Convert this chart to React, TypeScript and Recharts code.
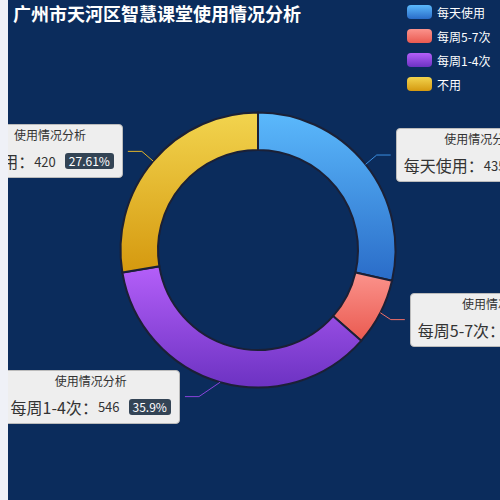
import React from 'react';
import { PieChart, Pie, Cell } from 'recharts';

const categories = ['每天使用', '每周5-7次', '每周1-4次', '不用'];
const usageValues = [435, 120, 546, 420];
const labelTitle = '使用情况分析';
const chartTitle = '广州市天河区智慧课堂使用情况分析';

const gradientStops = [
  ['#5bb9fc', '#2a6cc8'],
  ['#fb938c', '#ea5a50'],
  ['#b45ff9', '#6c32c2'],
  ['#f2d44e', '#d5990f'],
];
const lineColors = ['#3b8fe2', '#f07068', '#8a44dc', '#e2b42a'];

const data = categories.map((name, i) => ({ name, value: usageValues[i] }));
const total = usageValues.reduce((a, b) => a + b, 0);

const FONT = '"Noto Sans CJK SC", "Microsoft YaHei", sans-serif';
const RAD = Math.PI / 180;

function fmtPct(v: number) {
  return String(parseFloat(((v / total) * 100).toFixed(2))) + '%';
}

function renderLabel(props: any) {
  const { cx, cy, midAngle, outerRadius, index, value, name } = props;
  const cos = Math.cos(-midAngle * RAD);
  const sin = Math.sin(-midAngle * RAD);
  const dir = cos >= 0 ? 1 : -1;
  const x1 = cx + outerRadius * cos;
  const y1 = cy + outerRadius * sin;
  const rA = outerRadius + 15;
  const rX = outerRadius + 10;
  const rB = outerRadius + 22.5;
  const y2 = cy + rA * sin;
  const dy = Math.abs(y2 - cy);
  const x2 = cx + dir * rX * Math.sqrt(Math.max(0, 1 - (dy * dy) / (rB * rB)));
  const x3 = x2 + dir * 14;
  const boxW = 220;
  const boxH = 54;
  const fx = dir > 0 ? x3 + 5 : x3 - 5 - boxW;
  return (
    <g key={`lbl-${index}`}>
      <polyline
        points={`${x1},${y1} ${x2},${y2} ${x3},${y2}`}
        fill="none"
        stroke={lineColors[index]}
        strokeWidth={1}
      />
      <foreignObject x={fx} y={y2 - boxH / 2} width={boxW} height={boxH}>
        <div
          style={{
            width: boxW,
            height: boxH,
            display: 'flex',
            justifyContent: dir > 0 ? 'flex-start' : 'flex-end',
            fontFamily: FONT,
          }}
        >
          <div
            style={{
              boxSizing: 'border-box',
              height: boxH,
              background: '#eeeeee',
              border: '1px solid #bbbbbb',
              borderRadius: 4,
              padding: '0 8px 0 7px',
              display: 'flex',
              flexDirection: 'column',
              alignItems: 'center',
              whiteSpace: 'nowrap',
              boxShadow: '0 1px 1px rgba(0,0,0,0.25)',
            }}
          >
            <div style={{ fontSize: 12, lineHeight: '20px', height: 20, color: '#333' }}>{labelTitle}</div>
            <div style={{ display: 'flex', alignItems: 'center', height: 32, color: '#333' }}>
              <span style={{ fontSize: 16 }}>{name}：</span>
              <span style={{ fontSize: 13 }}>{value}</span>
              <span
                style={{
                  fontSize: 12,
                  lineHeight: '16px',
                  background: '#334455',
                  color: '#fff',
                  borderRadius: 3,
                  padding: '0 4px',
                  marginLeft: 9,
                }}
              >
                {fmtPct(value)}
              </span>
            </div>
          </div>
        </div>
      </foreignObject>
    </g>
  );
}

export default function App() {
  return (
    <div style={{ position: 'fixed', inset: 0, background: '#eff1f7', overflow: 'hidden' }}>
      <div
        style={{
          position: 'absolute',
          left: 8,
          top: 0,
          width: 500,
          height: 500,
          background: '#0b2c5c',
          overflow: 'hidden',
          fontFamily: FONT,
        }}
      >
        <div
          style={{
            position: 'absolute',
            left: 5,
            top: 1,
            fontSize: 18,
            lineHeight: '24px',
            fontWeight: 'bold',
            color: '#fff',
            whiteSpace: 'nowrap',
          }}
        >
          {chartTitle}
        </div>
        <div style={{ position: 'absolute', left: 399, top: 5 }}>
          {categories.map((c, i) => (
            <div key={c} style={{ display: 'flex', alignItems: 'center', height: 14, marginBottom: 10 }}>
              <div
                style={{
                  width: 25,
                  height: 14,
                  borderRadius: 4,
                  background: `linear-gradient(${gradientStops[i][0]}, ${gradientStops[i][1]})`,
                }}
              />
              <span style={{ marginLeft: 5, fontSize: 12, color: '#fff', whiteSpace: 'nowrap' }}>{c}</span>
            </div>
          ))}
        </div>
        <PieChart
          width={500}
          height={500}
          margin={{ top: 0, right: 0, bottom: 0, left: 0 }}
          style={{ position: 'absolute', left: 0, top: 0 }}
        >
          <defs>
            {gradientStops.map((g, i) => (
              <linearGradient key={i} id={`grad-${i}`} x1="0" y1="0" x2="0" y2="1">
                <stop offset="0%" stopColor={g[0]} />
                <stop offset="100%" stopColor={g[1]} />
              </linearGradient>
            ))}
          </defs>
          <Pie
            data={data}
            dataKey="value"
            nameKey="name"
            cx={250}
            cy={250}
            innerRadius={100}
            outerRadius={137.5}
            startAngle={90}
            endAngle={-270}
            stroke="#1b2036"
            strokeWidth={2}
            isAnimationActive={false}
            label={renderLabel}
            labelLine={false}
          >
            {data.map((d, i) => (
              <Cell key={d.name} fill={`url(#grad-${i})`} />
            ))}
          </Pie>
        </PieChart>
      </div>
    </div>
  );
}
